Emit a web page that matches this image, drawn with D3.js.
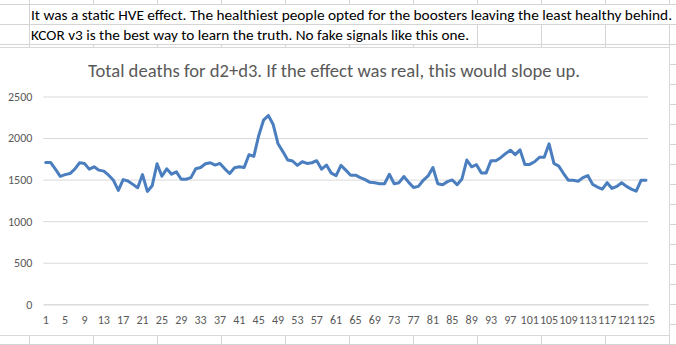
<!DOCTYPE html>
<html>
<head>
<meta charset="utf-8">
<script src="https://cdn.jsdelivr.net/npm/d3@7"></script>
<style>
  html, body { margin: 0; padding: 0; background: #fff; }
  svg { display: block; }
</style>
</head>
<body>
<svg id="chart" width="676" height="345"></svg>
<script>
// ---- data ----
const cellTexts = [
  "It was a static HVE effect. The healthiest people opted for the boosters leaving the least healthy behind.",
  "KCOR v3 is the best way to learn the truth. No fake signals like this one."
];
const chartTitle = "Total deaths for d2+d3. If the effect was real, this would slope up.";
const weeks = d3.range(1, 126);
const deaths = [
  1707, 1707, 1625, 1540, 1560, 1573, 1626, 1703, 1695, 1626,
  1654, 1614, 1602, 1553, 1492, 1370, 1500, 1484, 1443, 1402,
  1561, 1358, 1427, 1691, 1540, 1630, 1565, 1593, 1504, 1504,
  1524, 1630, 1646, 1691, 1703, 1675, 1695, 1630, 1573, 1642,
  1654, 1646, 1800, 1780, 2028, 2215, 2272, 2163, 1931, 1837,
  1736, 1724, 1671, 1715, 1695, 1703, 1728, 1626, 1675, 1578,
  1548, 1671, 1614, 1553, 1553, 1524, 1500, 1467, 1463, 1451,
  1451, 1565, 1451, 1463, 1537, 1467, 1406, 1419, 1492, 1545,
  1646, 1451, 1439, 1476, 1496, 1439, 1508, 1736, 1654, 1679,
  1581, 1581, 1728, 1728, 1764, 1813, 1854, 1800, 1858, 1683,
  1683, 1715, 1768, 1768, 1931, 1695, 1663, 1573, 1492, 1492,
  1480, 1524, 1549, 1443, 1411, 1386, 1463, 1394, 1419, 1463,
  1419, 1386, 1362, 1492, 1492
];
const yTicks = [0, 500, 1000, 1500, 2000, 2500];
const xTickLabels = weeks.filter(w => (w - 1) % 4 === 0);

// ---- drawing ----
const svg = d3.select("#chart");
const W = 676, H = 345;
const gridColor = "#d4d4d4";
const fontCell = "Carlito, Calibri, 'Liberation Sans', Arial, sans-serif";

svg.append("rect").attr("width", W).attr("height", H).attr("fill", "#fff");

// spreadsheet gridlines
const colX = d3.range(0, 11).map(k => 29.5 + 64 * k);
const rowY = d3.range(0, 18).map(k => 4.5 + 20 * k);
const sheet = svg.append("g");
sheet.selectAll("line.col").data(colX).join("line")
  .attr("x1", d => d).attr("x2", d => d).attr("y1", 0).attr("y2", H)
  .attr("stroke", gridColor).attr("stroke-width", 1);
sheet.selectAll("line.row").data(rowY).join("line")
  .attr("x1", 0).attr("x2", W).attr("y1", d => d).attr("y2", d => d)
  .attr("stroke", gridColor).attr("stroke-width", 1);

// text overflow hides column lines
sheet.append("rect").attr("x", 30).attr("y", 5).attr("width", W - 30).attr("height", 19).attr("fill", "#fff");
sheet.append("rect").attr("x", 30).attr("y", 25).attr("width", 446).attr("height", 19).attr("fill", "#fff");

const textWidths = [641, 438];
cellTexts.forEach((t, i) => {
  svg.append("text")
    .attr("x", 31).attr("y", 19.5 + 20 * i)
    .attr("font-family", fontCell).attr("font-size", 15)
    .attr("fill", "#000")
    .attr("textLength", textWidths[i]).attr("lengthAdjust", "spacingAndGlyphs")
    .text(t);
});

// chart area
svg.append("rect")
  .attr("x", -1).attr("y", 47.5).attr("width", 670.5).attr("height", 288)
  .attr("fill", "#fff").attr("stroke", "#d9d9d9").attr("stroke-width", 1);

svg.append("text")
  .attr("x", 334).attr("y", 76.5)
  .attr("text-anchor", "middle")
  .attr("font-family", fontCell).attr("font-size", 18.5)
  .attr("fill", "#595959")
  .attr("textLength", 492).attr("lengthAdjust", "spacingAndGlyphs")
  .text(chartTitle);

const x = d3.scaleBand().domain(weeks).range([43.3, 648.3]).padding(0);
const y = d3.scaleLinear().domain([0, 2500]).range([304.3, 96.5]);
const cx = w => x(w) + x.bandwidth() / 2;

// horizontal gridlines
const gy = d3.axisLeft(y).tickValues(yTicks).tickSize(-(648.3 - 43.3)).tickFormat(d3.format("d")).tickPadding(11);
const gAxisY = svg.append("g").attr("transform", "translate(43.3,0)").call(gy);
gAxisY.select(".domain").remove();
gAxisY.selectAll(".tick line").attr("stroke", "#d9d9d9").attr("stroke-width", 1);
gAxisY.selectAll(".tick text")
  .attr("font-family", fontCell).attr("font-size", 12).attr("fill", "#595959");

// x axis
const gx = d3.axisBottom(x).tickValues(xTickLabels).tickSize(0).tickPadding(11);
const gAxisX = svg.append("g").attr("transform", "translate(0,304.3)").call(gx);
gAxisX.select(".domain").attr("stroke", "#d9d9d9");
gAxisX.selectAll(".tick text")
  .attr("font-family", fontCell).attr("font-size", 12).attr("fill", "#595959");

// line
const line = d3.line().x((d, i) => cx(weeks[i])).y(d => y(d));
svg.append("path")
  .datum(deaths)
  .attr("d", line)
  .attr("fill", "none")
  .attr("stroke", "#4a7ebf")
  .attr("stroke-width", 3)
  .attr("stroke-linejoin", "round")
  .attr("stroke-linecap", "round");
</script>
</body>
</html>
